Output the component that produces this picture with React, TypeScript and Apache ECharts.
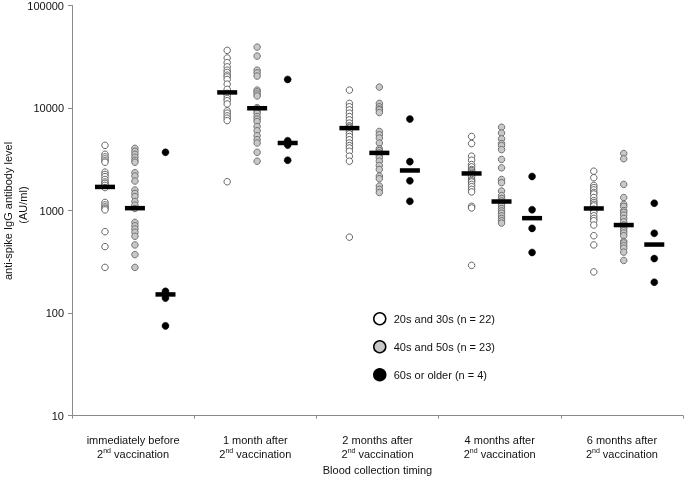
import React, { useEffect, useRef } from 'react';
import * as echarts from 'echarts';

const timeLabels = ['immediately before', '1 month after', '2 months after', '4 months after', '6 months after'];
const groupNames = ['20s and 30s (n = 22)', '40s and 50s (n = 23)', '60s or older (n = 4)'];

// 20s and 30s, per timing
const young: number[][] = [
  [4325, 3540, 3340, 3190, 3050, 2960, 2370, 2250, 2140, 2010, 1900, 1840, 1760, 1675, 1200, 1135, 1085, 1050, 1015, 622, 445, 279],
  [36500, 30750, 27700, 25200, 23400, 22200, 20900, 20100, 19000, 17100, 15200, 13900, 13200, 12400, 11800, 10960, 9380, 8910, 8380, 7960, 7540, 1910],
  [14960, 11100, 10300, 9590, 8910, 8260, 7670, 7130, 6710, 6500, 6370, 5910, 5600, 5280, 4910, 4560, 4300, 4080, 3790, 3390, 3030, 550],
  [5280, 4500, 3390, 3100, 2810, 2670, 2515, 2450, 2370, 2300, 2250, 2140, 2010, 1950, 1900, 1800, 1710, 1610, 1520, 1100, 1060, 292],
  [2420, 2090, 1760, 1675, 1590, 1500, 1450, 1340, 1250, 1197, 1150, 1110, 1032, 1000, 960, 889, 838, 795, 722, 568, 462, 252],
];

// 40s and 50s, per timing
const middle: number[][] = [
  [4045, 3785, 3540, 3310, 3095, 2960, 2340, 2170, 1940, 1585, 1470, 1370, 1225, 1130, 1048, 767, 711, 661, 614, 561, 462, 372, 279],
  [39300, 32100, 23400, 22000, 20500, 14960, 14400, 13700, 13100, 10090, 9800, 9230, 8900, 8260, 7800, 7380, 6600, 6000, 5370, 4910, 4560, 3700, 3030],
  [16000, 11100, 10300, 9800, 9590, 9040, 5910, 5490, 5100, 4560, 4000, 3850, 3650, 3435, 3265, 3030, 2750, 2515, 2170, 2045, 1735, 1610, 1500],
  [6500, 5700, 5000, 4500, 4300, 3930, 3150, 2610, 2010, 1870, 1550, 1400, 1310, 1240, 1180, 1110, 1048, 993, 944, 889, 838, 795, 755],
  [3600, 3200, 1800, 1340, 1150, 1096, 1000, 960, 902, 838, 778, 722, 700, 671, 636, 604, 568, 500, 483, 455, 430, 393, 326],
];

// 60s or older, per timing
const older: number[][] = [
  [3700, 163, 140, 75],
  [19000, 4800, 4350, 3100],
  [7800, 3000, 1950, 1230],
  [2150, 1020, 670, 390],
  [1180, 600, 340, 200],
];

// median bars
const youngMedian = [1700, 14200, 6370, 2300, 1048];
const middleMedian = [1055, 9950, 3650, 1225, 722];
const olderMedian = [152, 4560, 2460, 843, 466];

const FONT = '"Liberation Sans", Arial, sans-serif';
const TEXT = '#111';
const AXIS = '#8a8a8a';
const subOffsets = [0.27, 0.515, 0.765];

function toPoints(groups: number[][], k: number) {
  const out: number[][] = [];
  groups.forEach((vals, t) => vals.forEach((v) => out.push([t + subOffsets[k], v])));
  return out;
}
function toBars(meds: number[], k: number) {
  return meds.map((v, t) => [t + subOffsets[k], v]);
}

export default function App() {
  const ref = useRef<HTMLDivElement>(null);
  useEffect(() => {
    if (!ref.current) return;
    const chart = echarts.init(ref.current, undefined, { renderer: 'svg' });
    const pointStyles = [
      { color: '#ffffff', borderColor: '#555', borderWidth: 0.9, opacity: 1 },
      { color: '#c8c8c8', borderColor: '#666', borderWidth: 0.9, opacity: 1 },
      { color: '#000000', borderColor: '#000', borderWidth: 0.5, opacity: 1 },
    ];
    const groups = [young, middle, older];
    const meds = [youngMedian, middleMedian, olderMedian];
    const series: any[] = groups.map((g, k) => ({
      name: groupNames[k],
      type: 'scatter',
      xAxisIndex: 0,
      symbol: 'circle',
      symbolSize: k === 2 ? 7 : 6.5,
      itemStyle: pointStyles[k],
      data: toPoints(g, k),
      z: 2,
    }));
    meds.forEach((m, k) => {
      series.push({
        name: 'median' + k,
        type: 'scatter',
        xAxisIndex: 0,
        symbol: 'rect',
        symbolSize: [20, 4.5],
        itemStyle: { color: '#000', opacity: 1 },
        data: toBars(m, k),
        z: 3,
      });
    });
    chart.setOption({
      animation: false,
      textStyle: { fontFamily: FONT },
      grid: { left: 72, right: 1, top: 5, bottom: 62, containLabel: false },
      xAxis: [
        { type: 'value', min: 0, max: 5, show: false },
        {
          type: 'category',
          position: 'bottom',
          data: timeLabels,
          boundaryGap: true,
          axisLine: { lineStyle: { color: AXIS, width: 1 } },
          axisTick: { show: true, length: 3, lineStyle: { color: AXIS } },
          axisLabel: {
            margin: 17,
            interval: 0,
            formatter: (v: string) => `{a|${v}}\n{a|2}{s|nd}{a| vaccination}`,
            rich: {
              a: { fontSize: 11, color: TEXT, lineHeight: 14, fontFamily: FONT },
              s: { fontSize: 7, color: TEXT, lineHeight: 14, fontFamily: FONT, verticalAlign: 'top' },
            },
          },
          name: 'Blood collection timing',
          nameLocation: 'middle',
          nameGap: 47,
          nameTextStyle: { fontSize: 11, color: TEXT, fontFamily: FONT },
          splitLine: { show: false },
        },
      ],
      yAxis: {
        type: 'log',
        logBase: 10,
        min: 10,
        max: 100000,
        axisLine: { show: true, lineStyle: { color: AXIS, width: 1 } },
        axisTick: { show: true, length: 4, lineStyle: { color: AXIS } },
        axisLabel: {
          fontSize: 11,
          color: TEXT,
          margin: 8,
          fontFamily: FONT,
          formatter: (v: number) => String(Math.round(v)),
        },
        splitLine: { show: false },
        minorTick: { show: false },
      },
      legend: {
        data: groupNames,
        orient: 'vertical',
        left: 373,
        top: 312,
        padding: 0,
        itemWidth: 12,
        itemHeight: 12,
        itemGap: 14.5,
        icon: 'circle',
        itemStyle: { borderColor: '#000', borderWidth: 1.5, opacity: 1 },
        textStyle: { fontSize: 11, color: TEXT, fontFamily: FONT, padding: [0, 0, 0, 3] },
        selectedMode: false,
      },
      graphic: [
        {
          type: 'text',
          x: 8,
          y: 211,
          rotation: Math.PI / 2,
          style: {
            text: 'anti-spike IgG antibody level',
            fontSize: 11,
            fontFamily: FONT,
            fill: TEXT,
            textAlign: 'center',
            textVerticalAlign: 'middle',
            align: 'center',
            verticalAlign: 'middle',
          },
        },
        {
          type: 'text',
          x: 23,
          y: 205,
          rotation: Math.PI / 2,
          style: {
            text: '(AU/ml)',
            fontSize: 11,
            fontFamily: FONT,
            fill: TEXT,
            textAlign: 'center',
            textVerticalAlign: 'middle',
            align: 'center',
            verticalAlign: 'middle',
          },
        },
      ],
      series,
    });
    return () => chart.dispose();
  }, []);
  return <div ref={ref} style={{ position: 'fixed', left: 0, top: 0, width: 684, height: 480 }} />;
}
